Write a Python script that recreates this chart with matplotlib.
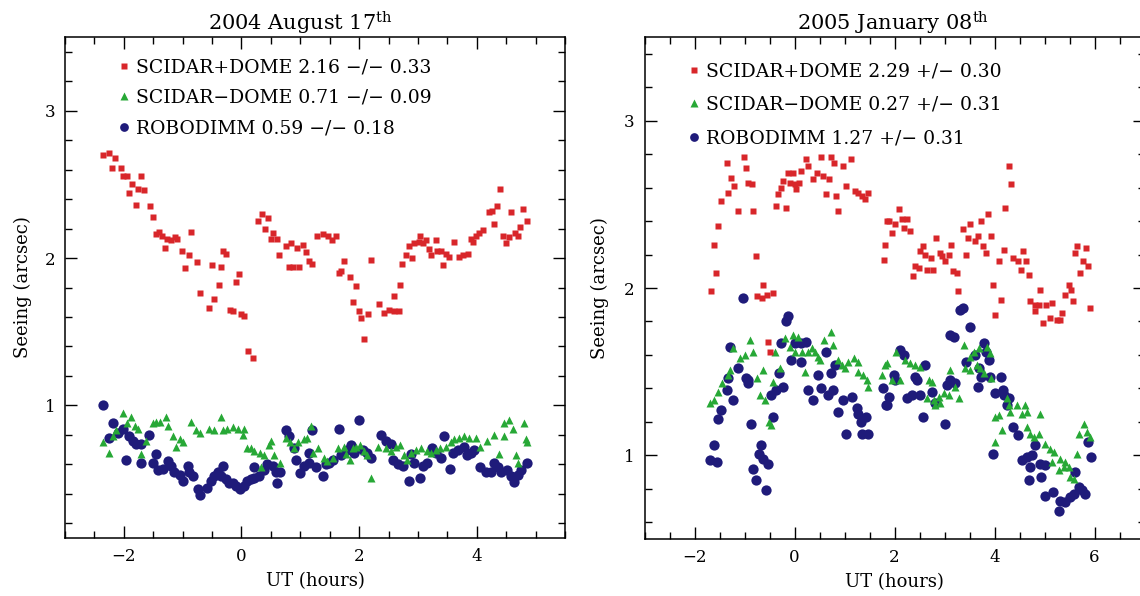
import matplotlib
matplotlib.use("Agg")
import matplotlib.pyplot as plt
from matplotlib.ticker import MultipleLocator

plt.rcParams["font.family"] = ["DejaVu Serif"]
plt.rcParams["mathtext.fontset"] = "dejavuserif"

# Farver som i originalen
ROED = "#d8262a"
GROEN = "#27a836"
BLAA = "#1f1b7a"

titler = ["2004 August 17$^{\\rm th}$", "2005 January 08$^{\\rm th}$"]

labels_aug = ["SCIDAR+DOME 2.16 \u2212/\u2212 0.33",
              "SCIDAR\u2212DOME 0.71 \u2212/\u2212 0.09",
              "ROBODIMM 0.59 \u2212/\u2212 0.18"]
labels_jan = ["SCIDAR+DOME 2.29 +/\u2212 0.30",
              "SCIDAR\u2212DOME 0.27 +/\u2212 0.31",
              "ROBODIMM 1.27 +/\u2212 0.31"]

# ---------------------------------------------------------------------------
# 2004 August 17
# ---------------------------------------------------------------------------
aug_roed_x = [-2.35, -2.25, -2.20, -2.15, -2.05, -2.01, -1.95, -1.91, -1.86, -1.80,
              -1.76, -1.71, -1.65, -1.56, -1.50, -1.46, -1.41, -1.35, -1.30, -1.27,
              -1.20, -1.13, -1.09, -1.01, -0.96, -0.90, -0.85, -0.76, -0.70, -0.56,
              -0.50, -0.46, -0.39, -0.35, -0.32, -0.26, -0.20, -0.14, -0.10, -0.05,
              -0.01, 0.05, 0.11, 0.20,
              0.28, 0.35, 0.40, 0.45, 0.50, 0.54, 0.60, 0.64, 0.75, 0.80,
              0.84, 0.88, 0.94, 0.97, 1.05, 1.09, 1.15, 1.20, 1.29, 1.38,
              1.47, 1.54, 1.61, 1.65, 1.70, 1.75, 1.85, 1.89, 1.95, 2.00,
              2.04, 2.09, 2.15, 2.20, 2.34, 2.43, 2.51, 2.59, 2.60, 2.67,
              2.70, 2.73, 2.80, 2.84, 2.90, 2.93, 3.01, 3.04, 3.09, 3.14,
              3.18, 3.23, 3.30, 3.32, 3.40, 3.43, 3.48, 3.53, 3.62, 3.69,
              3.76, 3.85, 3.90, 3.93, 3.99, 4.04, 4.10, 4.20, 4.26, 4.29,
              4.34, 4.40, 4.45, 4.50, 4.55, 4.59, 4.65, 4.70, 4.73, 4.79, 4.86]
aug_roed_y = [2.70, 2.71, 2.61, 2.68, 2.61, 2.56, 2.56, 2.44, 2.50, 2.36,
              2.47, 2.56, 2.46, 2.35, 2.28, 2.16, 2.18, 2.15, 2.07, 2.13,
              2.12, 2.14, 2.13, 2.05, 1.93, 2.02, 2.18, 1.97, 1.76, 1.66,
              1.95, 1.72, 1.82, 1.94, 2.05, 2.03, 1.65, 1.64, 1.84, 1.89,
              1.62, 1.61, 1.37, 1.32,
              2.25, 2.30, 2.20, 2.27, 2.13, 2.17, 2.13, 2.02, 2.08, 1.94,
              2.10, 1.94, 2.07, 1.94, 2.09, 2.04, 1.98, 1.96, 2.15, 2.16,
              2.15, 2.12, 2.15, 1.90, 1.91, 1.98, 1.87, 1.70, 1.81, 1.64,
              1.59, 1.45, 1.62, 1.99, 1.69, 1.63, 1.65, 1.64, 1.74, 1.64,
              1.82, 1.96, 2.02, 2.08, 2.00, 2.10, 2.11, 2.15, 2.10, 2.12,
              2.06, 2.02, 2.12, 2.05, 2.05, 1.95, 2.03, 2.01, 2.11, 2.01,
              2.02, 2.03, 2.13, 2.11, 2.15, 2.17, 2.19, 2.31, 2.32, 2.23,
              2.35, 2.47, 2.15, 2.10, 2.14, 2.31, 2.17, 2.15, 2.21, 2.33, 2.25]

aug_groen_x = [-2.35, -2.25, -2.19, -2.14, -2.01, -1.94, -1.87, -1.81, -1.76, -1.70,
               -1.63, -1.51, -1.45, -1.39, -1.29, -1.25, -1.17, -1.11, -1.05, -0.99,
               -0.86, -0.77, -0.71, -0.55, -0.46, -0.35, -0.31, -0.24, -0.15, -0.06,
               0.02, 0.05, 0.10, 0.16, 0.22, 0.31, 0.38, 0.47, 0.50, 0.34,
               0.56, 0.65, 0.75, 0.83, 0.90, 0.96, 1.06, 1.12, 1.18, 1.21,
               1.30, 1.40, 1.46, 1.55, 1.64, 1.74, 1.77, 1.84, 1.89, 1.95,
               2.01, 2.08, 2.14, 2.20, 2.32, 2.45, 2.54, 2.63, 2.69, 2.76,
               2.82, 2.88, 2.97, 3.06, 3.16, 3.22, 3.31, 3.37, 3.47, 3.56,
               3.62, 3.70, 3.78, 3.87, 3.99, 4.05, 4.18, 4.30, 4.38, 4.46,
               4.55, 4.46, 4.61, 4.66, 4.70, 4.80, 4.83, 4.86]
aug_groen_y = [0.75, 0.68, 0.79, 0.83, 0.95, 0.88, 0.92, 0.86, 0.84, 0.67,
               0.76, 0.88, 0.89, 0.89, 0.92, 0.86, 0.79, 0.72, 0.77, 0.75,
               0.89, 0.83, 0.81, 0.84, 0.83, 0.92, 0.83, 0.84, 0.85, 0.84,
               0.80, 0.84, 0.71, 0.71, 0.69, 0.68, 0.66, 0.73, 0.76, 0.58,
               0.66, 0.61, 0.78, 0.75, 0.71, 0.75, 0.77, 0.78, 0.86, 0.68,
               0.71, 0.64, 0.62, 0.64, 0.71, 0.72, 0.67, 0.63, 0.71, 0.72,
               0.73, 0.69, 0.66, 0.51, 0.72, 0.71, 0.69, 0.72, 0.73, 0.66,
               0.63, 0.68, 0.70, 0.71, 0.69, 0.68, 0.70, 0.71, 0.72, 0.75,
               0.77, 0.78, 0.79, 0.78, 0.78, 0.72, 0.76, 0.80, 0.67, 0.88,
               0.90, 0.79, 0.84, 0.66, 0.61, 0.88, 0.77, 0.75]

aug_blaa_x = [-2.35, -2.19, -2.25, -2.10, -2.01, -1.91, -1.85, -1.79, -1.70, -1.96,
              -1.70, -1.57, -1.45, -1.51, -1.42, -1.33, -1.25, -1.20, -1.14, -1.05,
              -0.99, -0.91, -0.83, -0.89, -0.74, -0.71, -0.58, -0.52, -0.46, -0.40,
              -0.32, -0.34, -0.26, -0.21, -0.15, -0.10, -0.03, 0.04, 0.10, 0.16,
              0.22, 0.30, 0.21, 0.38, 0.44, 0.53, 0.59, 0.65, 0.60, 0.75,
              0.81, 0.89, 0.93, 0.99, 1.06, 1.14, 1.15, 1.20, 1.27, 1.38,
              1.43, 1.49, 1.55, 1.66, 1.70, 1.80, 1.86, 1.92, 2.00, 2.06,
              2.14, 2.20, 2.38, 2.45, 2.54, 2.58, 2.66, 2.74, 2.85, 2.88,
              2.94, 3.03, 3.08, 3.16, 3.24, 3.31, 3.40, 3.45, 3.54, 3.59,
              3.68, 3.78, 3.84, 3.90, 3.96, 4.05, 4.15, 4.24, 4.30, 4.36,
              4.42, 4.52, 4.58, 4.64, 4.70, 4.76, 4.85]
aug_blaa_y = [1.00, 0.88, 0.78, 0.81, 0.84, 0.79, 0.76, 0.74, 0.74, 0.63,
              0.61, 0.80, 0.67, 0.61, 0.56, 0.57, 0.62, 0.59, 0.55, 0.53,
              0.49, 0.59, 0.52, 0.55, 0.43, 0.39, 0.44, 0.49, 0.52, 0.55,
              0.59, 0.52, 0.50, 0.47, 0.47, 0.45, 0.43, 0.45, 0.49, 0.50,
              0.51, 0.52, 0.58, 0.56, 0.60, 0.59, 0.55, 0.55, 0.47, 0.83,
              0.79, 0.71, 0.63, 0.54, 0.59, 0.61, 0.68, 0.83, 0.58, 0.52,
              0.60, 0.61, 0.63, 0.84, 0.66, 0.70, 0.73, 0.68, 0.90, 0.70,
              0.68, 0.64, 0.80, 0.76, 0.74, 0.63, 0.60, 0.59, 0.49, 0.67,
              0.61, 0.51, 0.59, 0.61, 0.71, 0.68, 0.64, 0.79, 0.57, 0.68,
              0.70, 0.72, 0.66, 0.68, 0.70, 0.58, 0.55, 0.55, 0.61, 0.58,
              0.55, 0.56, 0.52, 0.48, 0.53, 0.56, 0.61]

# ---------------------------------------------------------------------------
# 2005 January 08
# ---------------------------------------------------------------------------
jan_roed_x = [-1.68, -1.61, -1.58, -1.54, -1.47, -1.36, -1.33, -1.27, -1.21, -1.13,
              -1.01, -0.98, -0.93, -0.86, -0.83, -0.77, -0.76, -0.66, -0.63, -0.56,
              -0.53, -0.49, -0.43, -0.37, -0.33, -0.27, -0.23, -0.17, -0.13, -0.09,
              -0.04, 0.01, 0.02, 0.09, 0.13, 0.23, 0.27, 0.37, 0.44, 0.53,
              0.57, 0.62, 0.69, 0.72, 0.79, 0.83, 0.87, 0.97, 1.02, 1.12,
              1.21, 1.27, 1.34, 1.41, 1.47, 1.79, 1.81, 1.84, 1.88, 1.95,
              2.01, 2.08, 2.15, 2.18, 2.25, 2.31, 2.37, 2.41, 2.48, 2.51,
              2.57, 2.61, 2.65, 2.73, 2.77, 2.83, 2.90, 2.95, 3.01, 3.08,
              3.13, 3.17, 3.25, 3.27, 3.37, 3.43, 3.47, 3.51, 3.61, 3.67,
              3.73, 3.77, 3.83, 3.86, 3.93, 3.97, 4.01, 4.08, 4.13, 4.18,
              4.21, 4.28, 4.33, 4.37, 4.46, 4.53, 4.57, 4.63, 4.68, 4.71,
              4.80, 4.81, 4.88, 4.91, 4.97, 5.03, 5.11, 5.15, 5.25, 5.31,
              5.35, 5.41, 5.48, 5.53, 5.57, 5.61, 5.65, 5.71, 5.76, 5.83,
              5.87, 5.91]
jan_roed_y = [1.98, 2.26, 2.09, 2.37, 2.52, 2.75, 2.57, 2.66, 2.61, 2.46,
              2.78, 2.72, 2.63, 2.62, 2.46, 2.19, 1.95, 1.94, 2.02, 1.96,
              1.68, 1.62, 1.97, 2.49, 2.56, 2.60, 2.64, 2.48, 2.69, 2.63,
              2.69, 2.62, 2.59, 2.63, 2.70, 2.77, 2.73, 2.65, 2.69, 2.78,
              2.67, 2.56, 2.65, 2.78, 2.75, 2.55, 2.46, 2.73, 2.61, 2.77,
              2.58, 2.57, 2.55, 2.53, 2.57, 2.17, 2.26, 2.40, 2.40, 2.33,
              2.38, 2.47, 2.41, 2.36, 2.41, 2.34, 2.07, 2.13, 2.12, 2.22,
              2.25, 2.20, 2.11, 2.18, 2.11, 2.30, 2.21, 2.19, 2.16, 2.20,
              2.26, 2.10, 2.09, 1.98, 2.35, 2.20, 2.30, 2.38, 2.28, 2.31,
              2.40, 2.25, 2.21, 2.44, 2.31, 2.02, 1.84, 2.16, 1.93, 2.23,
              2.48, 2.73, 2.62, 2.18, 2.16, 2.11, 2.22, 2.16, 2.08, 1.92,
              1.90, 1.86, 1.90, 1.99, 1.79, 1.90, 1.82, 1.91, 1.81, 1.81,
              1.85, 1.96, 2.02, 1.99, 1.92, 2.21, 2.25, 2.09, 2.16, 2.24,
              2.13, 1.88]

jan_groen_x = [-1.69, -1.61, -1.53, -1.46, -1.34, -1.29, -1.24, -1.09, -0.99, -0.89,
               -0.84, -0.76, -0.69, -0.63, -0.59, -0.51, -0.47, -0.43, -0.39, -0.29,
               -0.19, -0.09, -0.03, 0.01, 0.07, 0.14, 0.21, 0.27, 0.34, 0.41,
               0.47, 0.51, 0.58, 0.73, 0.77, 0.87, 0.94, 1.01, 1.06, 1.19,
               1.27, 1.27, 1.37, 1.44, 1.47, 1.75, 1.81, 1.84, 1.95, 2.03,
               2.11, 2.21, 2.31, 2.41, 2.51, 2.65, 2.68, 2.75, 2.78, 2.81,
               2.88, 2.91, 2.98, 3.08, 3.11, 3.21, 3.28, 3.38, 3.41, 3.50,
               3.51, 3.58, 3.65, 3.68, 3.70, 3.78, 3.85, 3.90, 3.93, 4.01,
               4.01, 4.08, 4.15, 4.25, 4.28, 4.31, 4.45, 4.55, 4.61, 4.65,
               4.65, 4.71, 4.78, 4.88, 4.91, 5.01, 5.11, 5.15, 5.18, 5.28,
               5.31, 5.38, 5.41, 5.48, 5.51, 5.58, 5.65, 5.68, 5.79, 5.85, 5.91]
jan_groen_y = [1.31, 1.33, 1.38, 1.43, 1.48, 1.51, 1.64, 1.58, 1.60, 1.69,
               1.62, 1.46, 1.36, 1.51, 1.33, 1.20, 1.18, 1.44, 1.62, 1.52,
               1.70, 1.65, 1.72, 1.62, 1.71, 1.62, 1.50, 1.62, 1.64, 1.62,
               1.59, 1.57, 1.69, 1.74, 1.66, 1.57, 1.54, 1.52, 1.56, 1.58,
               1.56, 1.50, 1.48, 1.45, 1.41, 1.48, 1.54, 1.55, 1.45, 1.62,
               1.45, 1.57, 1.55, 1.54, 1.53, 1.34, 1.45, 1.44, 1.33, 1.30,
               1.35, 1.31, 1.37, 1.36, 1.51, 1.41, 1.34, 1.66, 1.52, 1.51,
               1.59, 1.62, 1.54, 1.64, 1.52, 1.49, 1.65, 1.61, 1.46, 1.23,
               1.08, 1.24, 1.15, 1.34, 1.30, 1.26, 1.30, 1.25, 1.30, 1.26,
               1.17, 1.13, 1.11, 1.13, 1.25, 1.07, 1.04, 0.96, 1.02, 0.91,
               0.98, 0.93, 0.96, 0.93, 0.87, 0.86, 1.01, 1.13, 1.19, 1.14, 1.11]

jan_blaa_x = [-1.69, -1.61, -1.56, -1.54, -1.47, -1.36, -1.33, -1.29, -1.23, -1.13,
              -1.03, -0.98, -0.94, -0.93, -0.87, -0.83, -0.78, -0.71, -0.67, -0.63,
              -0.58, -0.53, -0.47, -0.43, -0.38, -0.31, -0.27, -0.23, -0.18, -0.14,
              -0.07, 0.01, 0.13, 0.13, 0.23, 0.26, 0.37, 0.47, 0.53, 0.63,
              0.67, 0.73, 0.77, 0.81, 0.86, 0.97, 1.02, 1.15, 1.24, 1.27,
              1.33, 1.35, 1.42, 1.47, 1.77, 1.82, 1.85, 1.88, 1.98, 2.01,
              2.11, 2.18, 2.25, 2.35, 2.41, 2.45, 2.51, 2.57, 2.61, 2.75,
              2.81, 3.01, 3.05, 3.11, 3.11, 3.19, 3.21, 3.31, 3.37, 3.43,
              3.51, 3.61, 3.67, 3.68, 3.73, 3.78, 3.83, 3.88, 3.91, 3.97,
              4.01, 4.13, 4.17, 4.19, 4.25, 4.28, 4.37, 4.47, 4.55, 4.65,
              4.68, 4.71, 4.75, 4.81, 4.91, 4.93, 5.01, 5.01, 5.17, 5.28,
              5.31, 5.41, 5.51, 5.58, 5.61, 5.68, 5.75, 5.81, 5.86, 5.93]
jan_blaa_y = [0.97, 1.06, 0.96, 1.22, 1.27, 1.39, 1.46, 1.65, 1.33, 1.52,
              1.94, 1.46, 1.45, 1.43, 1.19, 0.92, 0.85, 1.01, 1.06, 0.98,
              0.79, 0.95, 1.36, 1.23, 1.39, 1.49, 1.67, 1.41, 1.80, 1.83,
              1.57, 1.67, 1.67, 1.56, 1.68, 1.39, 1.33, 1.48, 1.40, 1.62,
              1.36, 1.49, 1.39, 1.54, 1.26, 1.33, 1.13, 1.35, 1.28, 1.25,
              1.20, 1.13, 1.23, 1.13, 1.40, 1.30, 1.30, 1.35, 1.48, 1.45,
              1.63, 1.60, 1.34, 1.36, 1.47, 1.45, 1.36, 1.23, 1.54, 1.38,
              1.31, 1.19, 1.42, 1.45, 1.72, 1.71, 1.43, 1.87, 1.88, 1.56,
              1.77, 1.60, 1.41, 1.52, 1.47, 1.67, 1.62, 1.57, 1.47, 1.01,
              1.37, 1.47, 1.39, 1.36, 1.30, 1.34, 1.17, 1.12, 0.97, 0.99,
              0.85, 0.93, 1.00, 1.06, 0.95, 0.87, 0.94, 0.76, 0.78, 0.67,
              0.73, 0.72, 0.75, 0.77, 0.90, 0.81, 0.79, 0.77, 1.08, 0.99]


def _panel(ax, roed, groen, blaa, labels, titel, xlim, ylim, anker, linjeafstand, titel_x):
    l_blaa, = ax.plot(*blaa, ls="none", marker="o", ms=7.4, color=BLAA, mec="none", zorder=3)
    l_groen, = ax.plot(*groen, ls="none", marker="^", ms=6.0, color=GROEN, mec="none", zorder=4)
    l_roed, = ax.plot(*roed, ls="none", marker="s", ms=4.6, color=ROED, mec="none", zorder=5)

    ax.set_xlim(*xlim)
    ax.set_ylim(*ylim)
    ax.xaxis.set_major_locator(MultipleLocator(2))
    ax.xaxis.set_minor_locator(MultipleLocator(0.5))
    ax.yaxis.set_major_locator(MultipleLocator(1))
    ax.yaxis.set_minor_locator(MultipleLocator(0.2))
    ax.tick_params(which="both", direction="in", top=True, right=True, width=1.0,
                   labelsize=12, pad=7)
    ax.tick_params(which="major", length=8.5)
    ax.tick_params(which="minor", length=4.8)
    for sp in ax.spines.values():
        sp.set_linewidth(1.1)

    ax.set_xlabel("UT (hours)", fontsize=13)
    ax.set_ylabel("Seeing (arcsec)", fontsize=13)
    ax.xaxis.set_label_coords(0.5, -0.068)
    ax.set_title(titel, fontsize=15, x=titel_x, pad=4)

    ax.legend([l_roed, l_groen, l_blaa], labels, loc="upper left", bbox_to_anchor=anker,
              frameon=False, fontsize=13.5, numpoints=1, handlelength=0.5,
              handletextpad=0.4, labelspacing=linjeafstand, borderpad=0,
              borderaxespad=0, markerscale=0.85)


fig = plt.figure(figsize=(11.4, 5.96), dpi=100)
ax_aug = fig.add_axes([0.0570, 0.0973, 0.4386, 0.8406])
ax_jan = fig.add_axes([0.5654, 0.0956, 0.4386, 0.8423])

_panel(ax_aug, (aug_roed_x, aug_roed_y), (aug_groen_x, aug_groen_y), (aug_blaa_x, aug_blaa_y),
       labels_aug, titler[0], (-3, 5.5), (0.1, 3.5), (0.108, 0.957), 0.66, 0.47)
_panel(ax_jan, (jan_roed_x, jan_roed_y), (jan_groen_x, jan_groen_y), (jan_blaa_x, jan_blaa_y),
       labels_jan, titler[1], (-3, 7), (0.5, 3.5), (0.089, 0.950), 0.84, 0.497)

ax_aug.yaxis.set_label_coords(-0.066, 0.5)
ax_jan.yaxis.set_label_coords(-0.071, 0.5)

fig.savefig("out.png", dpi=100, facecolor="white")
